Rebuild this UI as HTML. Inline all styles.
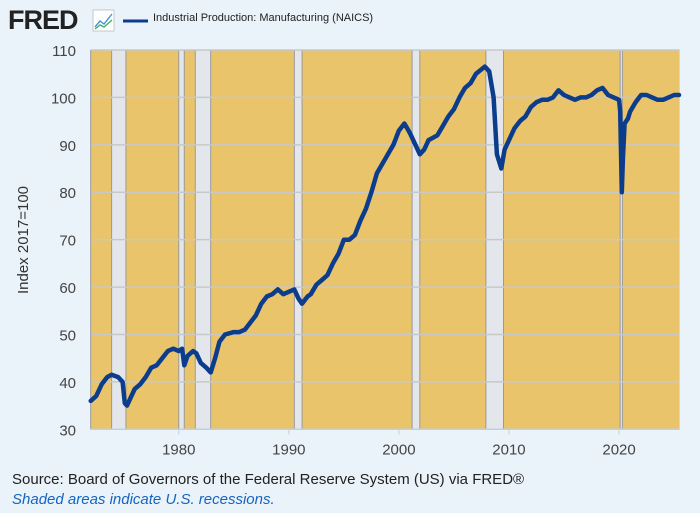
<!DOCTYPE html>
<html><head><meta charset="utf-8">
<style>
body{margin:0;background:#eaf2fa;font-family:"Liberation Sans",sans-serif;}
#wrap{position:relative;width:700px;height:513px;background:#eaf2fa;overflow:hidden}
.t{position:absolute;white-space:nowrap}
</style></head>
<body>
<div id="wrap">
<svg id="chart" width="700" height="513" style="position:absolute;left:0;top:0">
  <text x="8" y="29" font-family="Liberation Sans,sans-serif" font-weight="bold" font-size="27" fill="#222" letter-spacing="-1">FRED</text>
  <g>
    <rect x="93" y="10" width="21" height="21" fill="#fff" stroke="#bbb" stroke-width="0.8"/>
    <polyline points="95,27 100,21 104,24 112,14" fill="none" stroke="#4a90d9" stroke-width="1.4"/>
    <polyline points="95,29 100,25 104,27 112,20" fill="none" stroke="#3cb371" stroke-width="1.4"/>
  </g>
  <line x1="123" y1="21" x2="148" y2="21" stroke="#0b3d8c" stroke-width="3"/>
  <text x="153" y="21" font-size="11" fill="#222">Industrial Production: Manufacturing (NAICS)</text>
  <g id="plot"></g>
  <text transform="translate(28,240) rotate(-90)" text-anchor="middle" font-size="15" fill="#333">Index 2017=100</text>
</svg>
<div class="t" style="left:12px;top:471px;font-size:15px;color:#222">Source: Board of Governors of the Federal Reserve System (US) via FRED®</div>
<div class="t" style="left:12px;top:491px;font-size:15px;color:#1565c0;font-style:italic">Shaded areas indicate U.S. recessions.</div>
</div>
<script>
const years=[1972,1972.5,1973,1973.5,1973.9,1974.5,1974.9,1975.1,1975.3,1975.7,1976,1976.5,1977,1977.5,1978,1978.5,1979,1979.5,1980,1980.3,1980.5,1980.8,1981.3,1981.6,1982,1982.5,1982.9,1983.3,1983.7,1984.2,1985,1985.5,1986,1986.5,1987,1987.5,1988,1988.5,1989,1989.5,1990,1990.5,1990.9,1991.2,1991.7,1992,1992.5,1993,1993.5,1994,1994.5,1995,1995.5,1996,1996.5,1997,1997.5,1998,1998.5,1999,1999.5,2000,2000.5,2001,2001.5,2001.9,2002.3,2002.7,2003.5,2004,2004.5,2005,2005.5,2006,2006.5,2007,2007.8,2008.2,2008.6,2008.9,2009.3,2009.6,2010,2010.5,2011,2011.5,2012,2012.5,2013,2013.5,2014,2014.5,2015,2015.5,2016,2016.5,2017,2017.5,2018,2018.5,2019,2019.5,2020,2020.1,2020.25,2020.35,2020.5,2020.8,2021,2021.5,2022,2022.5,2023,2023.5,2024,2024.5,2025,2025.45];
const values=[36,37,39.5,41,41.5,41,40,35.5,35,37,38.5,39.5,41,43,43.5,45,46.5,47,46.5,47,43.5,45.5,46.5,46,44,43,42,45,48.5,50,50.5,50.5,51,52.5,54,56.5,58,58.5,59.5,58.5,59,59.5,57.5,56.5,58,58.5,60.5,61.5,62.5,65,67,70,70,71,74,76.5,80,84,86,88,90,93,94.5,92.5,90,88,89,91,92,94,96,97.5,100,102,103,105,106.5,105.5,100,88,85,89,91,93.5,95,96,98,99,99.5,99.5,100,101.5,100.5,100,99.5,100,100,100.5,101.5,102,100.5,100,99.5,97,80,87,94.5,95.5,97,99,100.5,100.5,100,99.5,99.5,100,100.5,100.5];
const recStart=[1973.9,1980.0,1981.5,1990.5,2001.2,2007.9,2020.1];
const recEnd=[1975.2,1980.5,1982.9,1991.2,2001.9,2009.5,2020.3];
const yTicks=[30,40,50,60,70,80,90,100,110];
const xTicks=[1980,1990,2000,2010,2020];
const X0=90.7,X1=679.6,T0=1972.0,T1=2025.5,Y0=50,Y1=429.3,V0=110,V1=30;
const xs=t=>X0+(t-T0)/(T1-T0)*(X1-X0);
const ys=v=>Y0+(V0-v)/(V0-V1)*(Y1-Y0);
const NS="http://www.w3.org/2000/svg";
const g=document.getElementById('plot');
function mk(tag,a){const e=document.createElementNS(NS,tag);for(const k in a)e.setAttribute(k,a[k]);g.appendChild(e);return e;}
let bg=mk('rect',{x:X0,y:Y0,width:X1-X0,height:Y1-Y0,fill:'#e9c46a'});


recStart.forEach((s,i)=>{
  const r=mk('rect',{x:xs(s),y:Y0,width:xs(recEnd[i])-xs(s),height:Y1-Y0,fill:'#e3e7ec',stroke:'#9a9a9a','stroke-width':1});
  
  
});
yTicks.forEach(v=>{
  const l=mk('line',{x1:X0,x2:X1,y1:ys(v),y2:ys(v),stroke:'#c8c8c8','stroke-width':1.5});
  
  
  const t=mk('text',{x:76,y:ys(v)+6,'text-anchor':'end','font-size':15,fill:'#444'});
  t.textContent=v;
  
  
});
xTicks.forEach(y=>{
  const l=mk('line',{x1:xs(y),x2:xs(y),y1:Y1,y2:Y1+5,stroke:'#c0d0e0','stroke-width':1});
  
  
  const t=mk('text',{x:xs(y),y:Y1+25,'text-anchor':'middle','font-size':15,fill:'#444'});
  t.textContent=y;
  
  
});
const ax=mk('line',{x1:X0,x2:X0,y1:Y0,y2:Y1,stroke:'#999','stroke-width':1});


const bx=mk('line',{x1:X0,x2:X1,y1:Y1,y2:Y1,stroke:'#c0d0e0','stroke-width':1.5});


const pts=years.map((t,i)=>xs(t).toFixed(1)+','+ys(values[i]).toFixed(1)).join(' ');
const pl=mk('polyline',{points:pts,fill:'none',stroke:'#0b3d8c','stroke-width':4.5,'stroke-linejoin':'round','stroke-linecap':'round'});


</script>
</body></html>
